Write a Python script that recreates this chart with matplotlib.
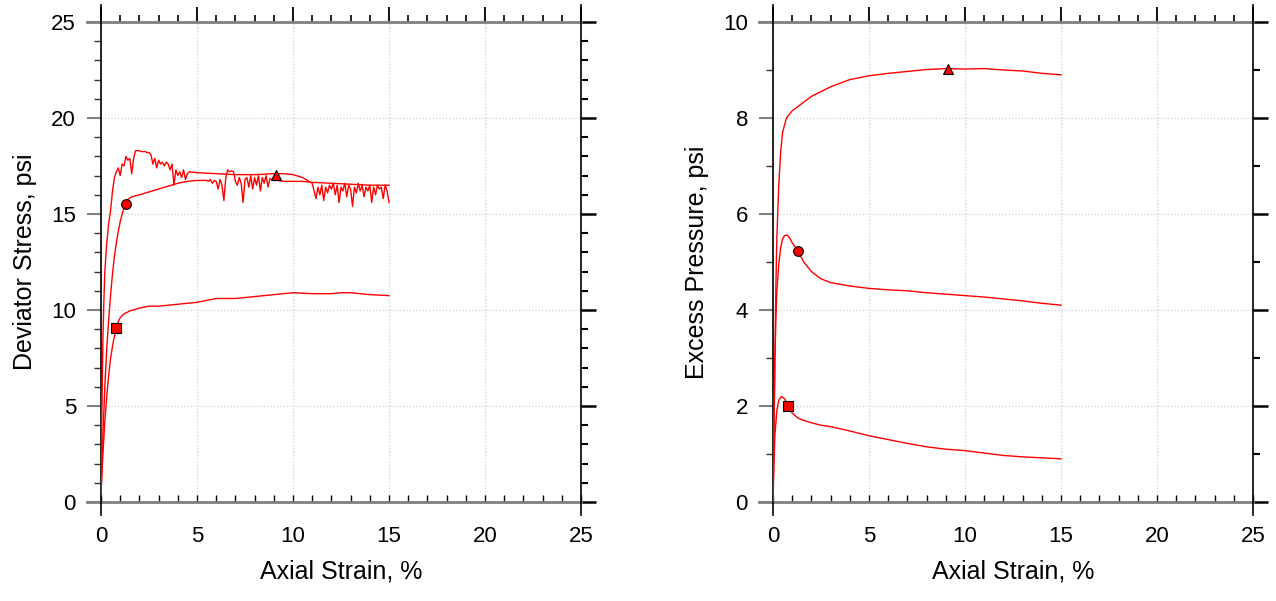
import numpy as np
import matplotlib
matplotlib.use("Agg")
import matplotlib.pyplot as plt
from matplotlib.ticker import MultipleLocator

plt.rcParams['font.family'] = ['Liberation Sans', 'DejaVu Sans']

# ---- deviator stress (psi) vs axial strain (%) ----
sq_strain = [0, 0.1, 0.2, 0.3, 0.4, 0.5, 0.65, 0.8, 0.9, 1.0, 1.2, 1.5, 2, 2.5, 3, 4, 5, 5.5,
             6, 7, 8, 9, 9.5, 10, 11, 12, 12.5, 13, 14, 15]
sq_stress = [0.5, 2.5, 4.2, 5.5, 6.6, 7.5, 8.4, 9.05, 9.4, 9.6, 9.8, 9.95, 10.1, 10.2, 10.2, 10.3,
             10.4, 10.5, 10.6, 10.6, 10.7, 10.8, 10.85, 10.9, 10.85, 10.85, 10.9, 10.9, 10.8, 10.75]

ci_strain = [0, 0.1, 0.2, 0.3, 0.4, 0.5, 0.6, 0.7, 0.8, 0.9, 1.0, 1.1, 1.2, 1.3, 1.4, 1.6, 2, 2.5,
             3, 3.5, 4, 4.5, 5, 5.5, 5.6, 5.7, 5.8, 5.9, 6.0, 6.1, 6.2, 6.3, 6.4, 6.5, 6.6, 6.7,
             6.8, 6.9, 7.0, 7.1, 7.2, 7.3, 7.4, 7.5, 7.6, 7.7, 7.8, 7.9, 8.0, 8.1, 8.2, 8.3, 8.4,
             8.5, 8.6, 8.7, 8.8, 8.9, 9.0, 9.2, 9.5, 10, 10.5, 11, 12, 13, 14, 15]
ci_stress = [0.3, 3.5, 6.0, 8.0, 9.5, 10.8, 11.9, 12.8, 13.5, 14.1, 14.6, 15.0, 15.3, 15.5, 15.75,
             15.9, 16.0, 16.15, 16.3, 16.45, 16.6, 16.7, 16.75, 16.75, 16.7, 16.8, 16.6, 16.75,
             16.7, 16.3, 16.8, 16.5, 15.7, 16.9, 17.3, 17.2, 17.25, 17.2, 16.7, 16.5, 16.9, 16.6,
             15.6, 16.8, 16.9, 16.4, 17.0, 16.3, 16.9, 16.5, 17.0, 16.2, 16.9, 16.6, 17.0, 16.4,
             16.85, 16.8, 16.75, 16.75, 16.7, 16.7, 16.7, 16.65, 16.6, 16.55, 16.5, 16.5]

tr_strain = [0, 0.05, 0.1, 0.15, 0.2, 0.3, 0.4, 0.5, 0.6, 0.7, 0.8, 0.9, 1.0, 1.1, 1.2, 1.3, 1.4,
             1.5, 1.6, 1.7, 1.8, 1.9, 2.0, 2.1, 2.2, 2.3, 2.4, 2.5, 2.6, 2.7, 2.8, 2.9, 3.0, 3.1,
             3.2, 3.3, 3.4, 3.5, 3.6, 3.7, 3.8, 3.9, 4.0, 4.1, 4.2, 4.3, 4.4, 4.5, 4.6, 5, 6, 7,
             8, 9, 9.5, 10, 10.5, 11.0, 11.1, 11.2, 11.3, 11.4, 11.5, 11.6, 11.7, 11.8, 11.9,
             12.0, 12.1, 12.2, 12.3, 12.4, 12.5, 12.6, 12.7, 12.8, 12.9, 13.0, 13.1, 13.2, 13.3,
             13.4, 13.5, 13.6, 13.7, 13.8, 13.9, 14.0, 14.1, 14.2, 14.3, 14.4, 14.5, 14.6, 14.7,
             14.8, 14.9, 15.0]
tr_stress = [1.0, 5.0, 8.5, 10.5, 12.0, 13.5, 14.5, 15.2, 16.2, 16.9, 17.2, 17.4, 17.0, 17.6,
             17.5, 18.0, 17.8, 17.9, 17.1, 17.9, 18.3, 18.3, 18.3, 18.25, 18.25, 18.25, 18.2,
             18.2, 18.1, 17.6, 17.9, 17.4, 17.8, 17.6, 17.7, 17.5, 17.7, 17.6, 17.3, 17.6, 16.5,
             17.3, 17.0, 17.2, 16.9, 17.3, 16.8, 17.1, 17.2, 17.15, 17.1, 17.05, 17.05, 17.1,
             17.1, 17.05, 16.9, 16.6, 16.2, 15.8, 16.4, 16.0, 16.5, 15.7, 16.4, 16.1, 16.5, 16.3,
             16.6, 16.0, 16.5, 15.6, 16.4, 16.2, 16.6, 15.9, 16.5, 16.3, 15.4, 16.4, 16.1, 16.6,
             16.2, 16.5, 15.9, 16.4, 16.2, 16.5, 15.6, 16.4, 16.0, 16.5, 16.3, 16.4, 15.8, 16.5,
             16.2, 15.6]

# ---- excess pore pressure (psi) vs axial strain (%) ----
sq_p_strain = [0, 0.05, 0.1, 0.2, 0.3, 0.45, 0.6, 0.8, 1.0, 1.3, 1.6, 2.0, 2.5, 3, 4, 5, 6, 7, 8,
               9, 10, 11, 12, 13, 14, 15]
sq_p = [0, 0.8, 1.4, 1.9, 2.12, 2.2, 2.15, 2.0, 1.85, 1.75, 1.7, 1.65, 1.6, 1.57, 1.48, 1.38,
        1.3, 1.22, 1.15, 1.1, 1.07, 1.02, 0.97, 0.94, 0.92, 0.9]

ci_p_strain = [0, 0.05, 0.1, 0.15, 0.2, 0.3, 0.4, 0.5, 0.6, 0.75, 0.9, 1.0, 1.3, 1.6, 2.0, 2.5,
               3, 4, 5, 6, 7, 8, 9, 10, 11, 12, 13, 14, 15]
ci_p = [0, 1.5, 3.0, 3.8, 4.4, 4.95, 5.3, 5.48, 5.55, 5.56, 5.48, 5.4, 5.23, 5.0, 4.8, 4.65,
        4.57, 4.5, 4.45, 4.42, 4.4, 4.36, 4.33, 4.3, 4.27, 4.23, 4.19, 4.14, 4.1]

tr_p_strain = [0, 0.05, 0.1, 0.15, 0.2, 0.3, 0.4, 0.5, 0.7, 1.0, 1.5, 2, 2.5, 3, 4, 5, 6, 7, 8,
               9, 10, 11, 12, 13, 14, 15]
tr_p = [0, 1.5, 3.0, 4.5, 5.5, 6.6, 7.3, 7.7, 8.0, 8.15, 8.3, 8.45, 8.55, 8.65, 8.8, 8.88,
        8.93, 8.97, 9.01, 9.03, 9.02, 9.03, 9.0, 8.98, 8.93, 8.9]

# marker points
mk_strain = [0.8, 1.3, 9.1]
mk_stress = [9.05, 15.5, 17.05]
mk_p = [2.0, 5.23, 9.03]
mk_shape = ['s', 'o', '^']

W, H = 1276, 601
fig = plt.figure(figsize=(W / 100, H / 100), dpi=100)


def style_axes(ax, ymax, ymajor):
    ax.set_xlim(0, 25)
    ax.set_ylim(0, ymax)
    for s in ax.spines.values():
        s.set_visible(False)
    # frame lines, extended past the corners
    ax.plot([-0.029, 1.0], [0, 0], transform=ax.transAxes, color='#7f7f7f', lw=2, clip_on=False)
    ax.plot([-0.029, 1.0], [1, 1], transform=ax.transAxes, color='#7f7f7f', lw=2, clip_on=False)
    ax.plot([0, 0], [-0.027, 1.035], transform=ax.transAxes, color='black', lw=1.2, clip_on=False)
    ax.plot([1, 1], [-0.027, 1.035], transform=ax.transAxes, color='black', lw=1.2, clip_on=False)

    ax.xaxis.set_major_locator(MultipleLocator(5))
    ax.xaxis.set_minor_locator(MultipleLocator(1))
    ax.yaxis.set_major_locator(MultipleLocator(ymajor))
    ax.yaxis.set_minor_locator(MultipleLocator(1))
    ax.grid(True, which='major', color='#d0d0d0', ls=':', lw=0.9)

    ax.tick_params(axis='x', which='both', direction='in', bottom=True, top=False,
                   length=5, width=1, color='black', labelsize=16, pad=17)
    ax.tick_params(axis='y', which='major', direction='out', left=True, right=False,
                   length=10, width=1.5, color='#7f7f7f', labelsize=16, pad=8)
    ax.tick_params(axis='y', which='minor', direction='out', left=True, right=False,
                   length=5, width=1, color='#333333')

    top = ax.secondary_xaxis('top')
    top.xaxis.set_major_locator(MultipleLocator(5))
    top.xaxis.set_minor_locator(MultipleLocator(1))
    top.tick_params(which='major', direction='out', length=11, width=1.3, labeltop=False)
    top.tick_params(which='minor', direction='out', length=5, width=1.2)
    for s in top.spines.values():
        s.set_visible(False)

    right = ax.secondary_yaxis('right')
    right.yaxis.set_major_locator(MultipleLocator(ymajor))
    right.yaxis.set_minor_locator(MultipleLocator(1))
    right.tick_params(which='major', direction='out', length=11, width=1.8, labelright=False)
    right.tick_params(which='minor', direction='out', length=5, width=1.5)
    for s in right.spines.values():
        s.set_visible(False)

    ax.set_xlabel('Axial Strain, %', fontsize=18, labelpad=9)


ax1 = fig.add_axes([101 / W, 99 / H, 480 / W, 480 / H])
style_axes(ax1, 25, 5)
ax1.plot(sq_strain, sq_stress, color='red', lw=1)
ax1.plot(ci_strain, ci_stress, color='red', lw=1)
ax1.plot(tr_strain, tr_stress, color='red', lw=1)
for x, y, m in zip(mk_strain, mk_stress, mk_shape):
    ax1.plot(x, y, marker=m, ms=7, mfc='red', mec='black', mew=0.8, zorder=5)
ax1.set_ylabel('Deviator Stress, psi', fontsize=18, labelpad=10)

ax2 = fig.add_axes([773 / W, 99 / H, 480 / W, 480 / H])
style_axes(ax2, 10, 2)
ax2.plot(sq_p_strain, sq_p, color='red', lw=1)
ax2.plot(ci_p_strain, ci_p, color='red', lw=1)
ax2.plot(tr_p_strain, tr_p, color='red', lw=1)
for x, y, m in zip(mk_strain, mk_p, mk_shape):
    ax2.plot(x, y, marker=m, ms=7, mfc='red', mec='black', mew=0.8, zorder=5)
ax2.set_ylabel('Excess Pressure, psi', fontsize=18, labelpad=10)

fig.savefig('out.png', dpi=100)
